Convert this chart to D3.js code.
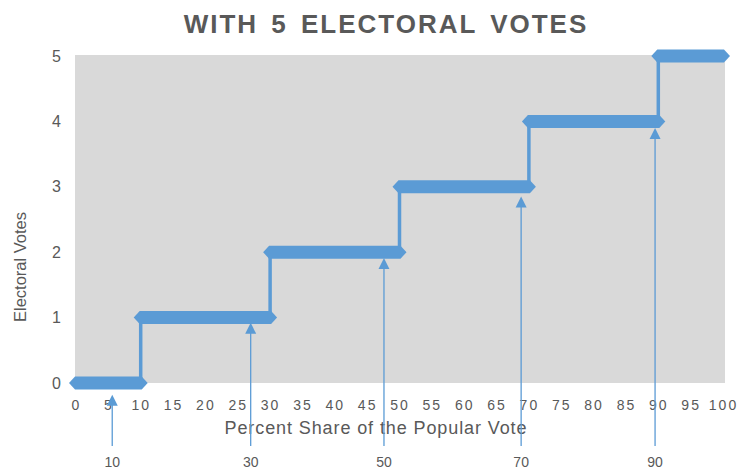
<!DOCTYPE html>
<html>
<head>
<meta charset="utf-8">
<script src="https://cdn.jsdelivr.net/npm/d3@7"></script>
<style>
  body { margin: 0; background: #fff; }
  text { font-family: "Liberation Sans", Arial, sans-serif; fill: #595959; }
</style>
</head>
<body>
<div id="chart-area"></div>
<script>
// step breakpoints (percent of popular vote) and the electoral votes won on each step
var breaks = [0, 10, 30, 50, 70, 90, 100];
var votes = [0, 1, 2, 3, 4, 5];

// axis tick labels
var xTicks = [0, 5, 10, 15, 20, 25, 30, 35, 40, 45, 50, 55, 60, 65, 70, 75, 80, 85, 90, 95, 100];
var yTicks = [0, 1, 2, 3, 4, 5];

// annotation arrows under each step
var arrowX = [5.6, 27.0, 47.6, 68.8, 89.5];
var arrowTip = [-0.18, 0.92, 1.91, 2.85, 3.9];
var arrowLabels = ["10", "30", "50", "70", "90"];

var width = 741, height = 476;
var blue = "#5b9bd5";

var svg = d3.select("#chart-area").append("svg")
    .attr("width", width)
    .attr("height", height);

var x = d3.scaleLinear().domain([0, 100]).range([76, 723]);
var y = d3.scaleLinear().domain([0, 5]).range([383, 56]);

// plot background
svg.append("rect")
    .attr("x", 75)
    .attr("y", 55)
    .attr("width", 650)
    .attr("height", 328)
    .attr("fill", "#d9d9d9");

// title
svg.append("text")
    .attr("x", 386)
    .attr("y", 33)
    .attr("text-anchor", "middle")
    .style("font-size", "26px")
    .style("font-weight", "bold")
    .style("letter-spacing", "2px")
    .style("word-spacing", "4px")
    .text("WITH 5 ELECTORAL VOTES");

// x axis labels
var xAxis = svg.append("g")
    .attr("transform", "translate(0,383)")
    .call(d3.axisBottom(x).tickValues(xTicks).tickSize(0).tickPadding(17));
xAxis.select(".domain").remove();
xAxis.selectAll("text")
    .style("font-size", "14px")
    .style("letter-spacing", "2px")
    .style("font-family", "Liberation Sans, Arial, sans-serif")
    .attr("fill", "#595959");

// y axis labels
var yAxis = svg.append("g")
    .attr("transform", "translate(75,0)")
    .call(d3.axisLeft(y).tickValues(yTicks).tickFormat(d3.format("d")).tickSize(0).tickPadding(14));
yAxis.select(".domain").remove();
yAxis.selectAll("text")
    .style("font-size", "16px")
    .style("font-family", "Liberation Sans, Arial, sans-serif")
    .attr("fill", "#595959");

// axis titles
svg.append("text")
    .attr("x", 376)
    .attr("y", 434)
    .attr("text-anchor", "middle")
    .style("font-size", "18px")
    .style("letter-spacing", "0.9px")
    .text("Percent Share of the Popular Vote");

svg.append("text")
    .attr("transform", "translate(26,267) rotate(-90)")
    .attr("text-anchor", "middle")
    .style("font-size", "16.5px")
    .text("Electoral Votes");

// vertical risers between steps
svg.selectAll(".riser")
    .data(votes.slice(1))
    .enter()
    .append("line")
    .attr("class", "riser")
    .attr("x1", function(d){ return x(breaks[d]); })
    .attr("x2", function(d){ return x(breaks[d]); })
    .attr("y1", function(d){ return y(d - 1); })
    .attr("y2", function(d){ return y(d); })
    .attr("stroke", blue)
    .attr("stroke-width", 3.5);

// thick horizontal steps with pointed ends
var half = 6.5, taper = 6, ext = 7;
svg.selectAll(".step")
    .data(votes)
    .enter()
    .append("path")
    .attr("class", "step")
    .attr("d", function(d, i){
        var x0 = x(breaks[i]) - ext, x1 = x(breaks[i + 1]) + ext, yc = y(d);
        return "M" + x0 + "," + yc +
            "L" + (x0 + taper) + "," + (yc - half) +
            "L" + (x1 - taper) + "," + (yc - half) +
            "L" + x1 + "," + yc +
            "L" + (x1 - taper) + "," + (yc + half) +
            "L" + (x0 + taper) + "," + (yc + half) + "Z";
    })
    .attr("fill", blue);

// annotation arrows
var arrowBottom = 446;
var arrows = svg.selectAll(".arrow")
    .data(arrowX)
    .enter()
    .append("g")
    .attr("class", "arrow");

arrows.append("line")
    .attr("x1", function(d){ return x(d); })
    .attr("x2", function(d){ return x(d); })
    .attr("y1", function(d, i){ return y(arrowTip[i]) + 8; })
    .attr("y2", arrowBottom)
    .attr("stroke", blue)
    .attr("stroke-width", 1.3);

arrows.append("path")
    .attr("d", function(d, i){
        var cx = x(d), ty = y(arrowTip[i]);
        return "M" + cx + "," + ty + "L" + (cx + 5.5) + "," + (ty + 11) + "L" + (cx - 5.5) + "," + (ty + 11) + "Z";
    })
    .attr("fill", blue);

arrows.append("text")
    .attr("x", function(d){ return x(d); })
    .attr("y", 467)
    .attr("text-anchor", "middle")
    .style("font-size", "14px")
    .text(function(d, i){ return arrowLabels[i]; });
</script>
</body>
</html>
